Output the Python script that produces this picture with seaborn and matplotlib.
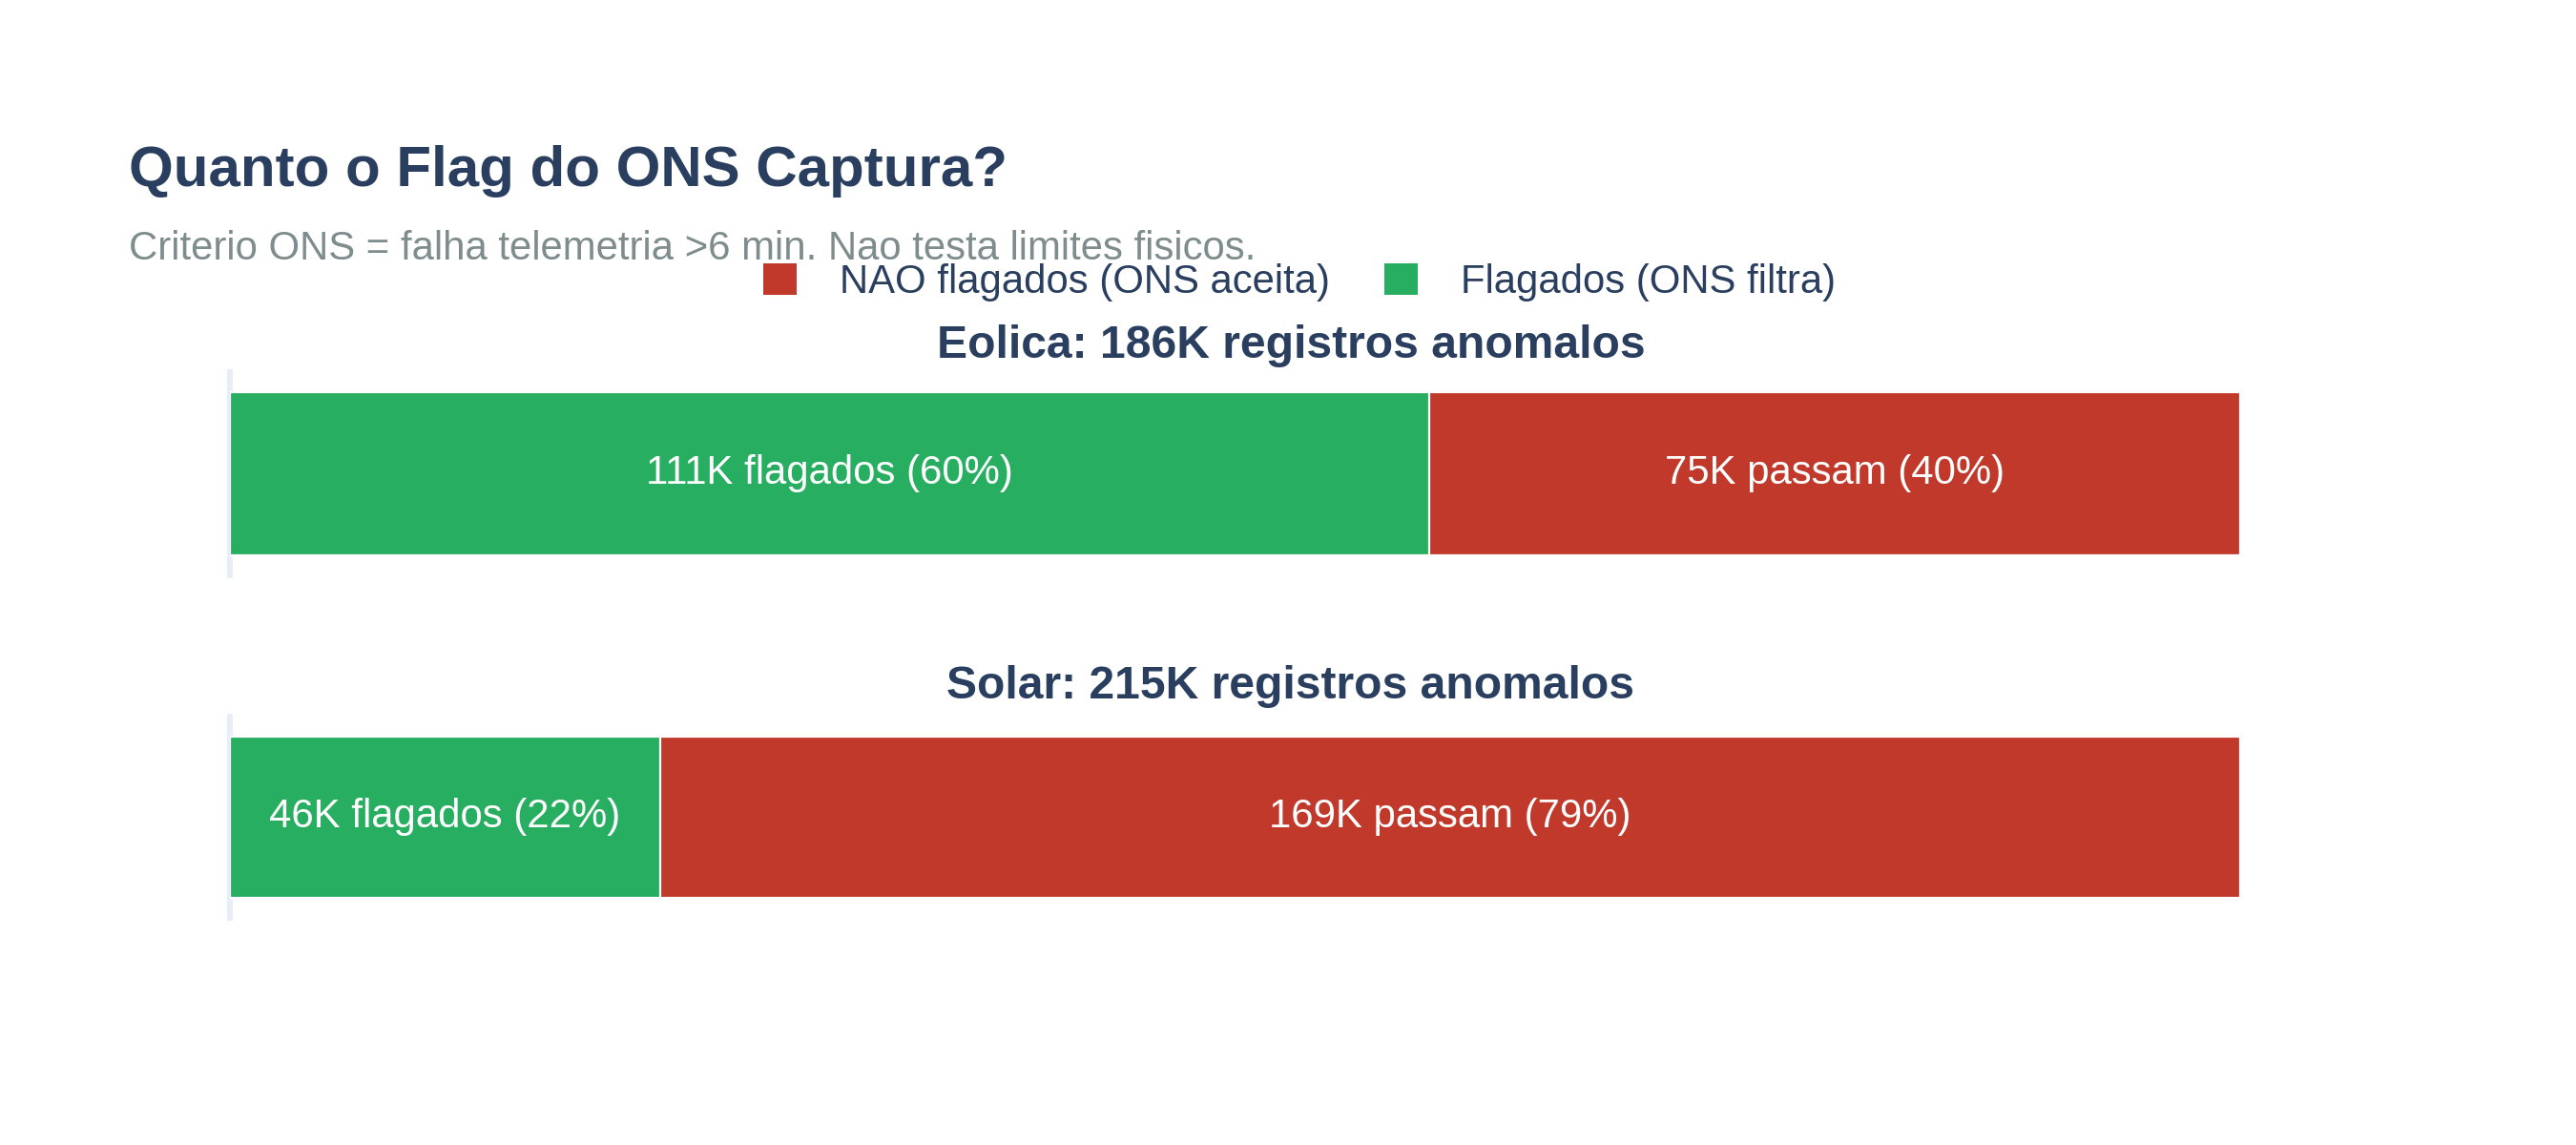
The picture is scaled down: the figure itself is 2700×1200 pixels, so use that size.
import matplotlib
matplotlib.use("Agg")
import matplotlib.pyplot as plt
import seaborn as sns
import pandas as pd
from matplotlib.patches import Patch

# ---- data ----
sources = ["Eolica", "Solar"]
flagados = [111, 46]          # thousand records flagged by ONS
passam = [75, 169]            # thousand records not flagged
pct_flag = [60, 22]
pct_pass = [40, 79]
totals = [186, 215]

title = "Quanto o Flag do ONS Captura?"
subtitle = "Criterio ONS = falha telemetria >6 min. Nao testa limites fisicos."
legend_labels = ["NAO flagados (ONS aceita)", "Flagados (ONS filtra)"]

RED = "#c0392b"
GREEN = "#27ae60"
NAVY = "#2a3f5f"
GRAY = "#7f8c8d"
AXLINE = "#e9edf7"

sns.set_theme(style="white")
plt.rcParams["font.family"] = ["Liberation Sans", "DejaVu Sans"]

W, H = 2700, 1200
DPI = 200
fig = plt.figure(figsize=(W / DPI, H / DPI), dpi=DPI)

def fx(px):
    return px / W

def fy(py):
    return 1 - py / H

REG = 15.1

# axes layout (pixel domains)
domains = [(390, 603), (751, 962)]
title_baselines = [375, 732]
left_px, right_px = 241, 2348

for i, (top, bot) in enumerate(domains):
    ax = fig.add_axes([fx(left_px), fy(bot), fx(right_px - left_px), (bot - top) / H])
    df_tot = pd.DataFrame({"fonte": [sources[i]], "valor": [totals[i]]})
    df_flag = pd.DataFrame({"fonte": [sources[i]], "valor": [flagados[i]]})
    sns.barplot(data=df_tot, x="valor", y="fonte", orient="h", color=RED,
                saturation=1, width=0.8, edgecolor="white", linewidth=0.8, ax=ax)
    sns.barplot(data=df_flag, x="valor", y="fonte", orient="h", color=GREEN,
                saturation=1, width=0.8, edgecolor="white", linewidth=0.8, ax=ax)
    ax.set_xlim(0, totals[i])
    ax.set_ylim(0.5, -0.5)
    ax.set_xlabel("")
    ax.set_ylabel("")
    ax.set_xticks([])
    ax.set_yticks([])
    for s in ["top", "right", "bottom"]:
        ax.spines[s].set_visible(False)
    ax.spines["left"].set_color(AXLINE)
    ax.spines["left"].set_linewidth(2.2)
    ax.spines["left"].set_zorder(0)
    ax.patch.set_alpha(0)

    ax.text(flagados[i] / 2, 0, f"{flagados[i]}K flagados ({pct_flag[i]}%)",
            ha="center", va="center", color="white", fontsize=REG)
    ax.text(flagados[i] + passam[i] / 2, 0, f"{passam[i]}K passam ({pct_pass[i]}%)",
            ha="center", va="center", color="white", fontsize=REG)

    fig.text(fx(1353), fy(title_baselines[i]),
             f"{sources[i]}: {totals[i]}K registros anomalos",
             ha="center", va="baseline", color=NAVY, fontsize=17.3, fontweight="bold")

fig.text(fx(135), fy(195), title, ha="left", va="baseline",
         color=NAVY, fontsize=21.6, fontweight="bold")
fig.text(fx(135), fy(272), subtitle, ha="left", va="baseline",
         color=GRAY, fontsize=REG)

handles = [Patch(facecolor=RED, edgecolor="none"), Patch(facecolor=GREEN, edgecolor="none")]
fig.legend(handles, legend_labels, loc="center", bbox_to_anchor=(fx(1362), fy(296)),
           ncol=2, frameon=False, fontsize=REG, labelcolor=NAVY,
           handlelength=0.84, handleheight=0.84, handletextpad=1.08,
           columnspacing=1.34, borderpad=0, borderaxespad=0)

fig.savefig("out.png", dpi=DPI, facecolor="white")
